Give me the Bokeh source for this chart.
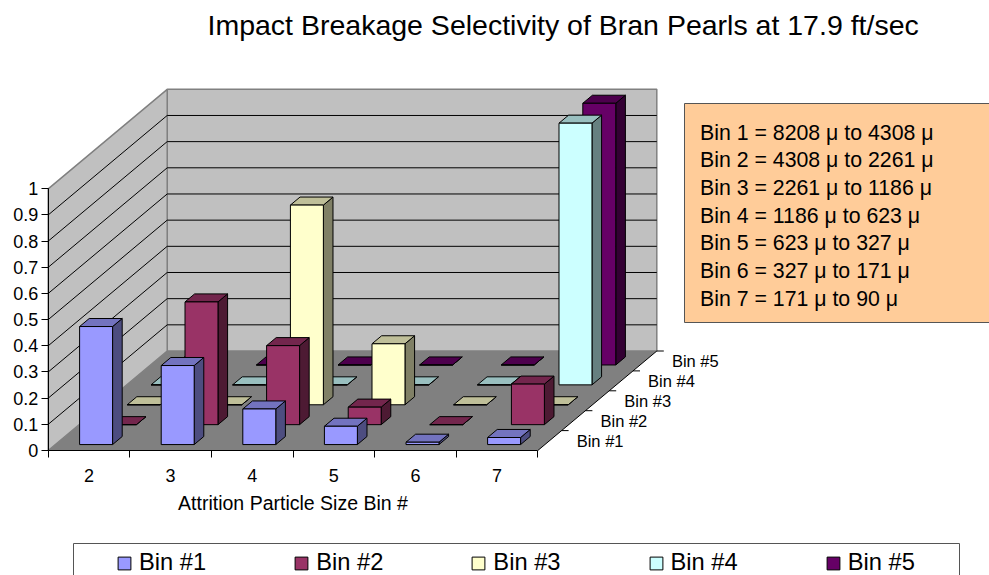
from bokeh.plotting import figure
from bokeh.models import (LinearAxis, FixedTicker, NumeralTickFormatter, Legend, LegendItem,
                          Range1d)
from bokeh.core.properties import value
from bokeh.embed import file_html
from bokeh.resources import INLINE

TITLE = "Impact Breakage Selectivity of Bran Pearls at 17.9 ft/sec"
X_LABEL = "Attrition Particle Size Bin #"
categories = ["2", "3", "4", "5", "6", "7"]
series_names = ["Bin #1", "Bin #2", "Bin #3", "Bin #4", "Bin #5"]
bin1 = [0.451, 0.302, 0.136, 0.070, 0.009, 0.027]
bin2 = [0.0, 0.469, 0.302, 0.067, 0.0, 0.155]
bin3 = [0.0, 0.0, 0.763, 0.233, 0.0, 0.0]
bin4 = [0.0, 0.0, 0.0, 0.0, 0.0, 1.0]
bin5 = [0.0, 0.0, 0.0, 0.0, 0.0, 1.0]
notes = ["Bin 1 = 8208 \u03bc to 4308 \u03bc", "Bin 2 = 4308 \u03bc to 2261 \u03bc",
         "Bin 3 = 2261 \u03bc to 1186 \u03bc", "Bin 4 = 1186 \u03bc to 623 \u03bc",
         "Bin 5 = 623 \u03bc to 327 \u03bc", "Bin 6 = 327 \u03bc to 171 \u03bc",
         "Bin 7 = 171 \u03bc to 90 \u03bc"]
y_ticks = [0, 0.1, 0.2, 0.3, 0.4, 0.5, 0.6, 0.7, 0.8, 0.9, 1]
series_values = [bin1, bin2, bin3, bin4, bin5]
front_colors = ["#9999FF", "#993366", "#FFFFCC", "#CCFFFF", "#660066"]
top_colors = ["#7373BF", "#73264D", "#BFBF99", "#99BFBF", "#4D004D"]
side_colors = ["#4D4D80", "#4D1A33", "#808066", "#668080", "#330033"]

FONT = "Liberation Sans"
W, H, TOP = 989, 575, 46
X0, Y0, UX, UY = 47.7, 450.0, 81.6, 261.7   # page pixel of origin, pixels per unit
OX, OY = 23.8 / UX, 19.9 / UY               # oblique shift per series
BW = 0.202                                   # half bar size, in category / series units

def dx(sx):
    return (sx - X0) / UX
def dy(sy):
    return (Y0 - sy) / UY

p = figure(width=W, height=H, output_backend="svg", toolbar_location=None,
           x_axis_type=None, y_axis_type=None,
           x_range=Range1d(dx(0), dx(W)), y_range=Range1d(dy(H), dy(TOP)),
           min_border_left=0, min_border_right=0, min_border_bottom=0, min_border_top=TOP,
           outline_line_color=None, title=TITLE)
p.grid.visible = False
p.title.align = "left"
p.title.offset = 207
p.title.standoff = 12
p.title.text_font = FONT
p.title.text_font_style = "normal"
p.title.text_font_size = "28.5px"
p.title.text_color = "black"

def proj(c, d, v):
    return (c + d * OX, v + d * OY)

N, D = len(categories), len(series_names)

def poly(pts, **kw):
    xs, ys = zip(*pts)
    return p.patch(list(xs), list(ys), **kw)

# walls and floor
poly([proj(0, D, 0), proj(N, D, 0), proj(N, D, 1), proj(0, D, 1)], fill_color="#C0C0C0",
     line_color="#808080", line_width=1.5)
poly([proj(0, 0, 0), proj(0, D, 0), proj(0, D, 1), proj(0, 0, 1)], fill_color="#C0C0C0",
     line_color="#808080", line_width=1.5)
for v in y_ticks[1:-1]:
    pts = [proj(0, 0, v), proj(0, D, v), proj(N, D, v)]
    p.line([q[0] for q in pts], [q[1] for q in pts], line_color="black", line_width=1)
poly([proj(0, 0, 0), proj(N, 0, 0), proj(N, D, 0), proj(0, D, 0)], fill_color="#808080",
     line_color=None)
e = [proj(N, 0, 0), proj(N, D, 0)]
p.line([q[0] for q in e], [q[1] for q in e], line_color="black", line_width=1)

# series-axis ticks and labels
TICK = 7 / UX
for j in range(1, D + 1):
    a = proj(N, j, 0)
    p.line([a[0], a[0] + TICK], [a[1], a[1]], line_color="black", line_width=1)
lab = [proj(N, j + 0.5, 0) for j in range(D)]
p.text([q[0] + 27 / UX for q in lab], [q[1] for q in lab], text=series_names,
       text_font=value(FONT), text_font_size="16.5px", text_align="left", text_baseline="middle")

# bars, back series first
front_renderers = {}
for j in reversed(range(D)):
    F, S, T = ([], []), ([], []), ([], [])
    for i, v in enumerate(series_values[j]):
        l, r = i + 0.5 - BW, i + 0.5 + BW
        f, b = j + 0.5 - BW, j + 0.5 + BW
        for store, pts in ((S, [proj(r, f, 0), proj(r, b, 0), proj(r, b, v), proj(r, f, v)]),
                           (T, [proj(l, f, v), proj(r, f, v), proj(r, b, v), proj(l, b, v)]),
                           (F, [proj(l, f, 0), proj(r, f, 0), proj(r, f, v), proj(l, f, v)])):
            store[0].append([q[0] for q in pts])
            store[1].append([q[1] for q in pts])
    p.patches(S[0], S[1], fill_color=side_colors[j], line_color="black", line_width=1)
    p.patches(T[0], T[1], fill_color=top_colors[j], line_color="black", line_width=1)
    front_renderers[j] = p.patches(F[0], F[1], fill_color=front_colors[j], line_color="black",
                                   line_width=1)

# axes
yax = LinearAxis(fixed_location=0, bounds=(0, 1), ticker=FixedTicker(ticks=y_ticks),
                 formatter=NumeralTickFormatter(format="0.[0]"),
                 major_tick_in=0, major_tick_out=7, minor_tick_line_color=None,
                 major_label_text_font=FONT, major_label_text_font_size="18px",
                 major_label_standoff=3, axis_line_color="black", major_label_text_color="black")
p.add_layout(yax, "left")
centers = [i + 0.5 for i in range(N)]
xax = LinearAxis(fixed_location=0, bounds=(0, N),
                 ticker=FixedTicker(ticks=centers, minor_ticks=list(range(N + 1))),
                 major_label_overrides=dict(zip(centers, categories)),
                 major_tick_line_color=None, major_tick_in=0, major_tick_out=0,
                 minor_tick_in=0, minor_tick_out=7, minor_tick_line_color="black",
                 major_label_text_font=FONT, major_label_text_font_size="18px",
                 major_label_standoff=11, major_label_text_color="black",
                 axis_label=X_LABEL, axis_label_text_font=FONT, axis_label_text_font_size="19.5px",
                 axis_label_text_font_style="normal", axis_label_standoff=7,
                 axis_label_text_color="black", axis_line_color="black")
p.add_layout(xax, "below")

# note box
p.quad(left=[dx(684)], right=[dx(1000)], top=[dy(103)], bottom=[dy(322)], fill_color="#FFCC99",
       line_color="#555555", line_width=1)
rows = [dy(132 + k * 27.7) for k in range(len(notes))]
p.text([dx(699.5)] * len(notes), rows, text=notes, text_font=value(FONT), text_font_size="21.3px",
       text_align="left", text_baseline="middle")

# legend box and legend
p.quad(left=[dx(73)], right=[dx(959)], top=[dy(543)], bottom=[dy(600)], fill_color="white",
       line_color="#555555", line_width=1)
legend = Legend(items=[LegendItem(label=series_names[j], renderers=[front_renderers[j]]) for j in range(D)],
                orientation="horizontal", location=(116, -1), spacing=87, glyph_width=16, glyph_height=16,
                label_standoff=7, padding=0, margin=0, border_line_color=None,
                background_fill_alpha=0, label_text_font=FONT, label_text_font_size="23.7px",
                label_text_color="black", label_height=20)
p.add_layout(legend)

open("out.html", "w").write(file_html(p, INLINE))
